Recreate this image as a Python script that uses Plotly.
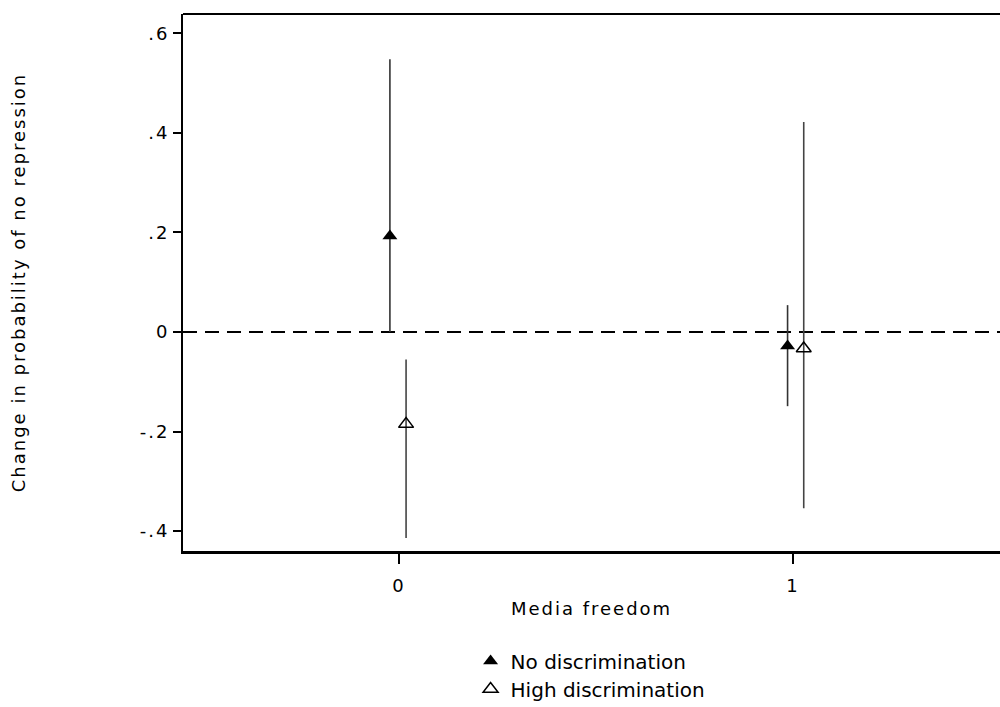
import plotly.graph_objects as go

# Data
media_freedom = [0, 1]
offset_no = [-0.023, -0.014]
offset_high = [0.018, 0.027]

no_disc_est = [0.193, -0.028]
no_disc_upper = [0.548, 0.054]
no_disc_lower = [0.0, -0.149]

high_disc_est = [-0.185, -0.033]
high_disc_upper = [-0.055, 0.422]
high_disc_lower = [-0.414, -0.354]

y_ticks = [-0.4, -0.2, 0, 0.2, 0.4, 0.6]
y_tick_labels = ["-.4", "-.2", "0", ".2", ".4", ".6"]
x_ticks = [0, 1]
x_tick_labels = ["0", "1"]

FONT = "DejaVu Sans, Verdana, sans-serif"

x_no = [m + o for m, o in zip(media_freedom, offset_no)]
x_high = [m + o for m, o in zip(media_freedom, offset_high)]

fig = go.Figure()

fig.add_trace(go.Scatter(
    x=x_no, y=no_disc_est, mode="markers", name="No discrimination",
    marker=dict(symbol="triangle-up", size=13, color="black"),
    error_y=dict(type="data", symmetric=False,
                 array=[u - e for u, e in zip(no_disc_upper, no_disc_est)],
                 arrayminus=[e - l for e, l in zip(no_disc_est, no_disc_lower)],
                 color="#333333", thickness=1.6, width=0),
    legend="legend",
))
fig.add_trace(go.Scatter(
    x=x_high, y=high_disc_est, mode="markers", name="High discrimination",
    marker=dict(symbol="triangle-up-open", size=13, color="black", line=dict(width=1.5)),
    error_y=dict(type="data", symmetric=False,
                 array=[u - e for u, e in zip(high_disc_upper, high_disc_est)],
                 arrayminus=[e - l for e, l in zip(high_disc_est, high_disc_lower)],
                 color="#444444", thickness=1.6, width=0),
    legend="legend2",
))

# zero reference line
fig.add_hline(y=0, line=dict(color="black", width=2, dash="14px,8px"), layer="below")
# top frame line
fig.add_shape(type="line", xref="paper", yref="paper", x0=0, x1=1, y0=1, y1=1,
              line=dict(color="black", width=2))

fig.update_layout(
    template="none",
    width=1000, height=707,
    margin=dict(l=183, r=0, t=14, b=156, pad=0),
    plot_bgcolor="white", paper_bgcolor="white",
    font=dict(family=FONT, size=18, color="black"),
    showlegend=True,
    legend=dict(x=0.352, y=0.0650, xref="paper", yref="container",
                xanchor="left", yanchor="middle",
                bgcolor="rgba(0,0,0,0)", borderwidth=0, font=dict(size=20)),
    legend2=dict(x=0.352, y=0.0254, xref="paper", yref="container",
                 xanchor="left", yanchor="middle",
                 bgcolor="rgba(0,0,0,0)", borderwidth=0, font=dict(size=20)),
    xaxis=dict(range=[-0.548, 1.525], tickvals=x_ticks, ticktext=x_tick_labels,
               showgrid=False, zeroline=False, showline=True, linecolor="black",
               linewidth=3, ticks="outside", ticklen=10, tickwidth=2, tickcolor="black",
               ticklabelstandoff=6, automargin=False,
               title=dict(text="Media freedom", standoff=8, font=dict(size=18)),
               tickfont=dict(size=18)),
    yaxis=dict(range=[-0.44, 0.639], tickvals=y_ticks, ticktext=y_tick_labels,
               showgrid=False, zeroline=False, showline=True, linecolor="black",
               linewidth=2, ticks="outside", ticklen=8, tickwidth=2, tickcolor="black",
               automargin=False,
               title=dict(text="Change in probability of no repression", standoff=115,
                          font=dict(size=18)),
               tickfont=dict(size=18)),
)

css = ".xtitle, .ytitle, .xtick text, .ytick text { letter-spacing: 2px; }"
post = ("document.body.style.margin='0';document.body.style.overflow='hidden';"
        "var s=document.createElement('style');s.textContent='" + css +
        "';document.head.appendChild(s);")

fig.write_html("out.html", post_script=post, config={"displayModeBar": False})
